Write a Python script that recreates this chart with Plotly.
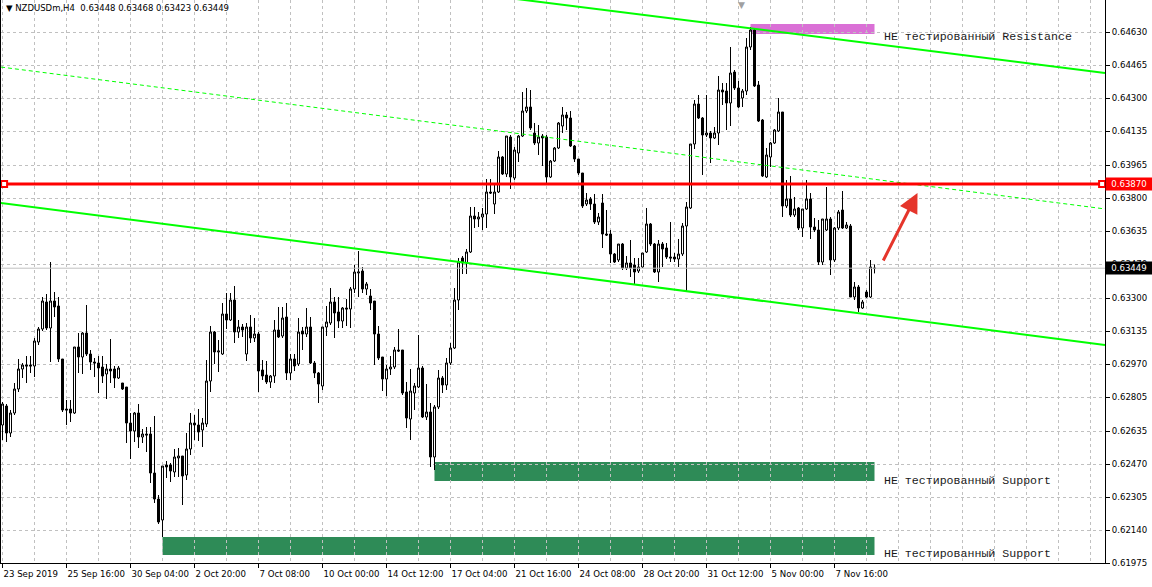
import plotly.graph_objects as go

# ---------------- data (prices stored in points: price * 100000) ----------------
PRICE_SCALE = 100000.0

open_pts = [
62665,62760,62625,62725,62845,62945,62965,62965,62960,63080,
63145,63280,63150,63285,63260,62995,62745,62745,62725,63055,
63005,63125,63020,62980,62975,62955,62920,62945,62945,62900,
62875,62855,62675,62635,62725,62605,62620,62620,62425,62295,
62190,62465,62465,62430,62500,62510,62415,62545,62675,62665,
62640,62670,62885,63130,63030,63020,63220,63190,63290,63130,
63155,63020,63155,63100,63120,62940,62915,62880,62910,63140,
63110,63205,62925,62995,62970,63135,63120,63155,62975,62925,
62860,63155,63175,63280,63230,63185,63250,63245,63345,63425,
63435,63345,63310,63285,63120,63005,62895,62945,62955,63040,
63040,62830,62695,62825,62855,62950,62705,62730,62505,62755,
62900,62865,62975,63050,63290,63500,63475,63530,63710,63695,
63705,63720,63830,63770,63830,64005,63920,64105,63900,64025,
64110,64235,64255,64125,64075,64110,64105,63905,63985,64050,
64160,64215,64200,64060,63995,63925,63770,63795,63770,63680,
63775,63620,63620,63520,63490,63570,63450,63475,63465,63435,
63455,63530,63670,63570,63430,63570,63550,63505,63505,63495,
63520,63660,63750,64070,64270,64200,64115,64125,64100,64125,
64340,64335,64275,64430,64350,64300,64335,64555,64640,64365,
64190,63905,64005,64075,64135,64230,63760,63795,63715,63750,
63650,63745,63795,63655,63640,63480,63640,63695,63490,63650,
63740,63650,63660,63305,63355,63250,63330,63305,63448]

high_pts = [
62780,62770,62740,62875,62995,62975,63010,63010,63100,63155,
63305,63320,63480,63330,63305,62995,62790,62790,63055,63125,
63130,63265,63040,63000,63010,63010,62970,63095,62960,62960,
62875,62855,62725,62730,62770,62645,62655,62655,62710,62315,
62460,62485,62475,62545,62550,62510,62625,62725,62715,62745,
62700,62990,63160,63135,63090,63275,63325,63325,63360,63190,
63170,63175,63215,63200,63130,62990,62985,62915,63190,63255,
63255,63275,63020,63020,63200,63155,63250,63205,62985,62930,
63155,63260,63350,63305,63305,63255,63295,63355,63465,63535,
63455,63380,63345,63285,63160,63005,62965,63010,63055,63145,
63040,62880,62945,62875,63115,62960,62870,62775,62765,62940,
62910,63000,63075,63350,63500,63510,63545,63755,63755,63730,
63750,63895,63895,63875,64035,64010,64110,64115,64055,64115,
64330,64350,64340,64175,64165,64120,64115,63990,64055,64180,
64255,64230,64235,64065,63995,63925,63825,63805,63820,63725,
63820,63740,63640,63525,63570,63575,63510,63590,63500,63500,
63525,63750,63675,63575,63590,63580,63575,63680,63525,63595,
63675,63780,64070,64290,64315,64205,64315,64135,64155,64410,
64375,64375,64555,64440,64385,64345,64600,64655,64650,64385,
64195,64050,64080,64145,64300,64230,63890,63910,63805,63755,
63745,63890,63825,63700,63690,63695,63855,63705,63655,63740,
63835,63680,63670,63380,63365,63290,63340,63490,63468]

low_pts = [
62590,62580,62605,62715,62830,62900,62875,62925,62905,63065,
63135,63140,62980,63205,62980,62730,62665,62680,62720,62925,
62920,63010,62940,62905,62825,62875,62795,62875,62850,62895,
62840,62575,62495,62580,62550,62575,62530,62375,62275,62170,
62105,62400,62380,62405,62405,62265,62390,62515,62590,62585,
62555,62655,62830,62970,62930,63015,63145,63185,63075,63100,
63105,62985,63075,63080,62830,62890,62870,62850,62875,63100,
63100,62890,62890,62935,62960,63040,63105,62970,62900,62775,
62840,63110,63165,63100,63150,63150,63160,63150,63325,63305,
63325,63315,63240,62965,62990,62835,62810,62915,62945,63030,
62815,62650,62590,62740,62850,62700,62690,62455,62440,62745,
62825,62840,62965,63045,63240,63420,63420,63525,63650,63655,
63640,63650,63820,63720,63825,63915,63905,63845,63890,63980,
64105,64225,64140,64065,64015,63960,63865,63900,63980,64045,
64125,64140,64055,63980,63915,63750,63760,63740,63670,63665,
63550,63610,63475,63475,63480,63440,63440,63405,63365,63425,
63450,63525,63560,63425,63380,63455,63495,63480,63480,63455,
63510,63330,63745,64045,64195,63915,64105,63975,64095,64065,
64265,64140,64160,64340,64250,64255,64315,64540,64355,64180,
63905,63900,63955,64070,64130,63705,63750,63705,63705,63640,
63605,63740,63595,63630,63465,63465,63635,63415,63480,63640,
63645,63645,63305,63290,63230,63245,63300,63300,63423]

close_pts = [
62770,62625,62725,62845,62945,62965,62960,62960,63085,63145,
63285,63150,63285,63255,62995,62740,62740,62725,63055,63005,
63125,63020,62980,62975,62950,62910,62945,62935,62900,62950,
62845,62675,62635,62725,62605,62620,62615,62425,62295,62180,
62460,62455,62435,62505,62510,62410,62545,62675,62665,62630,
62675,62885,63130,63030,63035,63220,63190,63290,63130,63155,
63140,63155,63100,63120,62935,62910,62880,62910,63140,63105,
63200,62925,62995,62960,63130,63120,63155,62975,62925,62870,
63155,63180,63280,63225,63185,63250,63245,63345,63430,63430,
63345,63370,63275,63120,63000,62895,62945,62955,63040,63035,
62825,62700,62835,62860,62950,62705,62730,62505,62755,62900,
62865,62975,63050,63290,63480,63475,63530,63710,63695,63705,
63720,63830,63825,63830,64005,63920,64110,63905,64040,64110,
64235,64255,64150,64075,64105,64100,63905,63985,64050,64175,
64215,64200,64060,63995,63925,63760,63790,63770,63680,63705,
63620,63615,63520,63480,63570,63450,63475,63450,63430,63455,
63525,63670,63570,63430,63570,63545,63505,63500,63495,63520,
63660,63755,64070,64270,64200,64115,64125,64100,64125,64340,
64330,64275,64425,64350,64255,64335,64555,64640,64360,64185,
63910,64015,64075,64140,64230,63760,63795,63715,63745,63650,
63745,63795,63655,63640,63480,63695,63695,63490,63650,63730,
63650,63665,63305,63355,63250,63280,63305,63455,63449]

date_labels = ["23 Sep 2019", "25 Sep 16:00", "30 Sep 04:00", "2 Oct 20:00",
               "7 Oct 08:00", "10 Oct 00:00", "14 Oct 12:00", "17 Oct 04:00",
               "21 Oct 16:00", "24 Oct 08:00", "28 Oct 20:00", "31 Oct 12:00",
               "5 Nov 00:00", "7 Nov 16:00"]
bars_per_label = 16
bars_per_grid = 8

price_ticks = [0.64630, 0.64465, 0.64300, 0.64135, 0.63965, 0.63800, 0.63635,
               0.63470, 0.63300, 0.63135, 0.62970, 0.62805, 0.62635, 0.62470,
               0.62305, 0.62140, 0.61975]

resistance_level = 0.63870
# channel lines: (bar, price) anchor pairs
upper_channel = {"bars": [134.5, 275.75], "prices": [0.64780, 0.64425]}
lower_channel = {"bars": [-0.5, 275.75], "prices": [0.63775, 0.63065]}
mid_channel = {"bars": [-0.5, 275.75], "prices": [0.64455, 0.63745]}
# zones: (start bar, end bar, low price, high price)
resistance_zone = (187, 218, 0.64620, 0.64670)
support_zone_1 = (108, 218, 0.62385, 0.62480)
support_zone_2 = (40, 218, 0.62015, 0.62105)
zone_texts = [("НЕ тестированный Resistance", 0.64610),
              ("НЕ тестированный Support", 0.62390),
              ("НЕ тестированный Support", 0.62025)]
header = "▼ NZDUSDm,H4\u00a0\u00a0{:.5f} {:.5f} {:.5f} {:.5f}"

# ---------------- derived ----------------
opens = [v / PRICE_SCALE for v in open_pts]
highs = [v / PRICE_SCALE for v in high_pts]
lows = [v / PRICE_SCALE for v in low_pts]
closes = [v / PRICE_SCALE for v in close_pts]
bars = list(range(len(opens)))

X_MIN, X_MAX = -0.375, 275.625
Y_MIN, Y_MAX = 0.61975, 0.64790


def extend(line, x0, x1):
    (a, b), (p, q) = line["bars"], line["prices"]
    k = (q - p) / (b - a)
    return [x0, x1], [p + k * (x0 - a), p + k * (x1 - a)]


fig = go.Figure()

GREEN = "#00FF00"
mx, my = extend(mid_channel, X_MIN, X_MAX)
fig.add_trace(go.Scatter(x=mx, y=my, mode="lines",
                         line=dict(color=GREEN, width=1, dash="4px,3px"),
                         hoverinfo="skip", showlegend=False))
fig.add_trace(go.Scatter(x=[X_MIN, X_MAX], y=[closes[-1]] * 2, mode="lines",
                         line=dict(color="#C0C0C0", width=1),
                         hoverinfo="skip", showlegend=False))

fig.add_trace(go.Candlestick(
    x=bars, open=opens, high=highs, low=lows, close=closes,
    increasing=dict(line=dict(color="black", width=1), fillcolor="white"),
    decreasing=dict(line=dict(color="black", width=1), fillcolor="black"),
    whiskerwidth=0, hoverinfo="skip", showlegend=False))

for ch in (upper_channel, lower_channel):
    xs, ys = extend(ch, X_MIN - 40, X_MAX)
    fig.add_trace(go.Scatter(x=xs, y=ys, mode="lines",
                             line=dict(color=GREEN, width=2),
                             hoverinfo="skip", showlegend=False))

fig.add_trace(go.Scatter(x=[X_MIN, X_MAX], y=[resistance_level] * 2, mode="lines",
                         line=dict(color="#FF0000", width=3),
                         hoverinfo="skip", showlegend=False))
fig.add_trace(go.Scatter(x=[0.4, 274.9], y=[resistance_level] * 2, mode="markers",
                         marker=dict(symbol="square", size=6, color="white",
                                     line=dict(color="#FF0000", width=2)),
                         cliponaxis=False, hoverinfo="skip", showlegend=False))

shapes = []
for (b0, b1, p0, p1), col in ((resistance_zone, "#DA70D6"),
                              (support_zone_1, "#2E8B57"),
                              (support_zone_2, "#2E8B57")):
    shapes.append(dict(type="rect", xref="x", yref="y", x0=b0, x1=b1, y0=p0, y1=p1,
                       fillcolor=col, line=dict(width=0), layer="below"))

annotations = []
for txt, p in zone_texts:
    annotations.append(dict(x=219.75, y=p, xref="x", yref="y", text=txt, showarrow=False,
                            xanchor="left", yanchor="middle",
                            font=dict(family="Liberation Mono", size=11.6, color="#1a1a1a")))

annotations.append(dict(x=0, y=1, xref="paper", yref="paper", xanchor="left", yanchor="top",
                        xshift=3, yshift=-1, showarrow=False,
                        text=header.format(opens[-1], highs[-1], lows[-1], closes[-1]),
                        font=dict(family="DejaVu Sans", size=8.5, color="black")))
annotations.append(dict(x=184.75, y=1, xref="x", yref="paper", xanchor="center", yanchor="top",
                        yshift=2, showarrow=False, text="▼",
                        font=dict(family="DejaVu Sans", size=9, color="#A0A0A0")))

# price tags on the axis
annotations.append(dict(x=1, y=resistance_level, xref="paper", yref="y", xanchor="left",
                        yanchor="middle", showarrow=False, text="0.63870", xshift=0,
                        bgcolor="#FF0000", borderpad=1, width=44, align="center",
                        font=dict(family="DejaVu Sans", size=8.6, color="white")))
annotations.append(dict(x=1, y=closes[-1], xref="paper", yref="y", xanchor="left",
                        yanchor="middle", showarrow=False, text="{:.5f}".format(closes[-1]),
                        bgcolor="black", borderpad=1, width=44, align="center",
                        font=dict(family="DejaVu Sans", size=8.6, color="white")))

# red arrow
annotations.append(dict(x=228.75, y=0.63825, xref="x", yref="y", ax=-35, ay=69,
                        showarrow=True, arrowhead=2, arrowsize=1.3, arrowwidth=3,
                        arrowcolor="#E5352B", text=""))

label_vals = [k * bars_per_label for k in range(len(date_labels))]

fig.update_layout(
    width=1152, height=587,
    margin=dict(l=1, r=47, t=0, b=24),
    paper_bgcolor="white", plot_bgcolor="white",
    boxgap=0.5, boxgroupgap=0,
    shapes=shapes, annotations=annotations,
    showlegend=False,
    xaxis=dict(range=[X_MIN, X_MAX], tickvals=label_vals, ticktext=date_labels,
               tickangle=0, automargin=False, ticklabelstandoff=3,
               showgrid=True, gridcolor="#C0C0C0", griddash="3px,3px", gridwidth=1,
               minor=dict(tick0=0, dtick=bars_per_grid, showgrid=True, gridcolor="#C0C0C0",
                          griddash="3px,3px", gridwidth=1, ticks=""),
               zeroline=False, showline=True, linecolor="black", linewidth=1,
               ticks="outside", ticklen=4, tickcolor="black",
               ticklabelposition="outside right",
               tickfont=dict(family="DejaVu Sans", size=8.6, color="black"),
               rangeslider=dict(visible=False), fixedrange=True),
    yaxis=dict(range=[Y_MIN, Y_MAX], side="right", tickvals=price_ticks,
               ticktext=["{:.5f}".format(v) for v in price_ticks],
               automargin=False, mirror=True,
               showgrid=True, gridcolor="#C0C0C0", griddash="3px,3px", gridwidth=1,
               zeroline=False, showline=True, linecolor="black", linewidth=1,
               ticks="outside", ticklen=4, tickcolor="black",
               tickfont=dict(family="DejaVu Sans", size=8.6, color="black"),
               fixedrange=True),
)

fig.write_html("out.html", include_plotlyjs=True, config={"displayModeBar": False},
               post_script="document.body.style.margin='0';document.body.style.padding='0';")
